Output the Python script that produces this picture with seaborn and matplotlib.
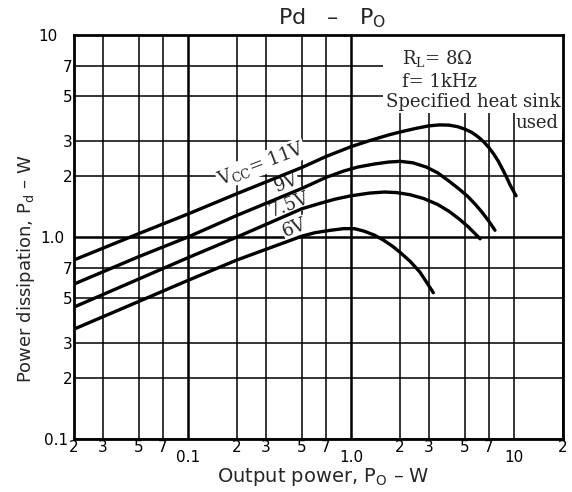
import pandas as pd
import seaborn as sns
import matplotlib
matplotlib.use('Agg')
from matplotlib import pyplot as plt
from matplotlib.patches import Rectangle

# values (Po in W, Pd in W)
po_11 = [0.02, 0.05, 0.1, 0.2, 0.5, 0.7, 1.0, 1.3, 1.7, 2.0, 2.5, 3.0, 3.5, 4.0, 4.5,
         5.0, 5.5, 6.0, 6.5, 7.0, 7.5, 8.0, 8.5, 9.0, 9.5, 10.3]
pd_11 = [0.77, 1.04, 1.30, 1.64, 2.21, 2.50, 2.80, 3.00, 3.20, 3.31, 3.45, 3.55, 3.59, 3.58, 3.52,
         3.42, 3.30, 3.14, 2.97, 2.78, 2.58, 2.38, 2.17, 1.98, 1.80, 1.60]

po_9 = [0.02, 0.05, 0.1, 0.2, 0.5, 0.7, 0.9, 1.1, 1.4, 1.7, 2.0, 2.4, 2.9, 3.4, 4.0,
        4.6, 5.2, 5.8, 6.4, 7.0, 7.65]
pd_9 = [0.585, 0.80, 1.0, 1.28, 1.74, 1.97, 2.12, 2.22, 2.30, 2.35, 2.37, 2.33, 2.22, 2.08, 1.89,
        1.73, 1.59, 1.45, 1.32, 1.20, 1.08]

po_75 = [0.02, 0.05, 0.1, 0.2, 0.5, 0.65, 0.8, 1.0, 1.3, 1.6, 1.9, 2.3, 2.8, 3.4, 4.0,
         4.6, 5.2, 5.7, 6.2]
pd_75 = [0.45, 0.62, 0.79, 1.0, 1.38, 1.47, 1.54, 1.60, 1.65, 1.67, 1.66, 1.62, 1.55, 1.45, 1.34,
         1.23, 1.13, 1.05, 0.98]

po_6 = [0.02, 0.05, 0.1, 0.2, 0.5, 0.6, 0.75, 0.9, 1.05, 1.2, 1.4, 1.6, 1.8, 2.0, 2.3,
        2.65, 2.9, 3.2]
pd_6 = [0.35, 0.48, 0.61, 0.77, 1.01, 1.05, 1.08, 1.10, 1.10, 1.07, 1.02, 0.96, 0.90, 0.84, 0.76,
        0.67, 0.60, 0.53]

x_ticks = [0.02, 0.03, 0.05, 0.07, 0.1, 0.2, 0.3, 0.5, 0.7, 1, 2, 3, 5, 7, 10, 20]
x_labels = ['2', '3', '5', '7', '0.1', '2', '3', '5', '7', '1.0', '2', '3', '5', '7', '10', '2']
y_ticks = [0.1, 0.2, 0.3, 0.5, 0.7, 1, 2, 3, 5, 7, 10]
y_labels = ['0.1', '2', '3', '5', '7', '1.0', '2', '3', '5', '7', '10']

df = pd.concat([
    pd.DataFrame({'Po': po_11, 'Pd': pd_11, 'Vcc': '11V'}),
    pd.DataFrame({'Po': po_9, 'Pd': pd_9, 'Vcc': '9V'}),
    pd.DataFrame({'Po': po_75, 'Pd': pd_75, 'Vcc': '7.5V'}),
    pd.DataFrame({'Po': po_6, 'Pd': pd_6, 'Vcc': '6V'}),
])

sns.set_style('white')
plt.rcParams['font.family'] = ['DejaVu Sans']

fig = plt.figure(figsize=(5.72, 4.92), dpi=100)
ax = fig.add_axes([0.1294, 0.1077, 0.8549, 0.8211])
ax.set_xscale('log')
ax.set_yscale('log')

sns.lineplot(data=df, x='Po', y='Pd', units='Vcc', estimator=None, sort=False,
             color='black', lw=2.4, ax=ax, zorder=3)
for ln in ax.get_lines():
    ln.set_solid_joinstyle('round')

ax.set_xlim(0.02, 20)
ax.set_ylim(0.1, 10)
ax.set_xticks(x_ticks, x_labels)
ax.set_yticks(y_ticks, y_labels)
ax.minorticks_off()
ax.tick_params(length=0, labelsize=11, colors='black')
ax.set_axisbelow(True)
ax.grid(True, which='major', color='black', lw=1.1)
for line, v in zip(ax.get_xgridlines(), x_ticks):
    if v in (0.1, 1):
        line.set_linewidth(1.8)
for line, v in zip(ax.get_ygridlines(), y_ticks):
    if v == 1:
        line.set_linewidth(1.8)

# decade labels sit lower / further out
for t, lab in zip(ax.xaxis.get_major_ticks(), x_labels):
    t.set_pad(8 if lab in ('0.1', '1.0', '10') else 1)
for t, lab in zip(ax.yaxis.get_major_ticks(), y_labels):
    t.set_pad({'10': 12, '1.0': 7, '0.1': 4}.get(lab, 1))

for s in ax.spines.values():
    s.set_color('black')
    s.set_linewidth(2)

ax.set_xlabel('Output power, P$_\\mathrm{O}$ – W', fontsize=14, va='center')
ax.xaxis.set_label_coords(0.509, -0.094)
ax.set_ylabel('Power dissipation, P$_\\mathrm{d}$ – W', fontsize=13, va='center')
ax.yaxis.set_label_coords(-0.098, 0.421)
fig.text(0.58, 0.962, 'Pd   –   P$_\\mathrm{O}$', fontsize=16, ha='center', va='center')

# white area behind the condition notes
ax.add_patch(Rectangle((0.632, 0.807), 0.368, 0.193, transform=ax.transAxes,
                       facecolor='white', edgecolor='none', zorder=2))
ax.add_patch(Rectangle((0.906, 0.76), 0.094, 0.05, transform=ax.transAxes,
                       facecolor='white', edgecolor='none', zorder=2))

serif = dict(family='DejaVu Serif', math_fontfamily='dejavuserif', fontsize=13, zorder=2.5)
ax.text(0.744, 0.943, 'R$_\\mathrm{L}$= 8Ω', ha='center', va='center', transform=ax.transAxes, **serif)
ax.text(0.748, 0.884, 'f= 1kHz', ha='center', va='center', transform=ax.transAxes, **serif)
ax.text(0.996, 0.834, 'Specified heat sink', ha='right', va='center', transform=ax.transAxes, **serif)
ax.text(0.990, 0.782, 'used', ha='right', va='center', transform=ax.transAxes, **serif)

box = dict(facecolor='white', edgecolor='none', pad=0.5)
ax.text(0.281, 2.30, 'V$_\\mathrm{CC}$= 11V', rotation=21, ha='center', va='center', bbox=box, **serif)
ax.text(0.40, 1.85, '9V', rotation=21, ha='center', va='center', bbox=box, **serif)
ax.text(0.42, 1.44, '7.5V', rotation=21, ha='center', va='center', bbox=box, **serif)
ax.text(0.453, 1.11, '6V', rotation=21, ha='center', va='center', bbox=box, **serif)

fig.savefig('out.png', dpi=100)
